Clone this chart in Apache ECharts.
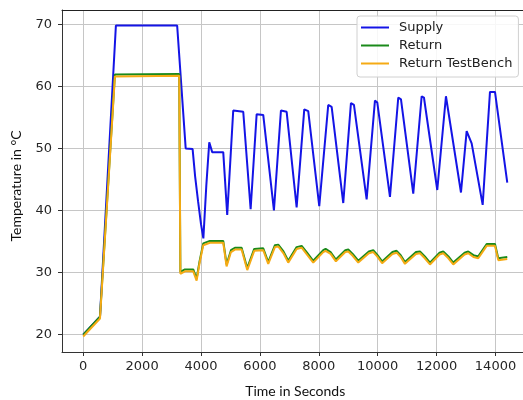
<!DOCTYPE html>
<html>
<head>
<meta charset="utf-8">
<script src="https://cdn.jsdelivr.net/npm/echarts@6/dist/echarts.min.js"></script>
<style>html,body{margin:0;padding:0;background:#fff}#c{width:523px;height:400px}</style>
</head>
<body>
<div id="c"></div>
<script>
// ---- data ----
const seriesNames = ["Supply", "Return", "Return TestBench"];

const supplyTime = [0, 570, 1110, 3190, 3480, 3715, 3800, 3900, 4000, 4080, 4180, 4280, 4380, 4755, 4890,
  5094, 5434, 5685, 5889, 6113, 6476, 6714, 6908, 7247, 7506, 7641, 8015, 8320, 8436, 8830,
  9091, 9193, 9624, 9906, 9985, 10416, 10698, 10790, 11207, 11492, 11570, 12022, 12317, 12375,
  12827, 13020, 13190, 13564, 13812, 13982, 14399];
const supplyTemp = [20.0, 22.9, 69.8, 69.8, 50.0, 49.9, 45.5, 41.5, 37.8, 35.5, 44.0, 51.0, 49.4, 49.4, 39.3,
  56.1, 55.9, 40.2, 55.5, 55.4, 40.0, 56.1, 55.9, 40.5, 56.3, 56.0, 40.7, 57.0, 56.7, 41.2,
  57.3, 57.0, 41.8, 57.7, 57.4, 42.2, 58.2, 57.9, 42.7, 58.4, 58.2, 43.3, 58.4, 58.1,
  42.9, 52.8, 50.8, 40.9, 59.1, 59.1, 44.5];

const returnTime = [0, 570, 1076, 1110, 3260, 3300, 3360, 3454, 3736, 3851, 3950, 4076, 4303, 4755, 4868,
  5017, 5152, 5379, 5570, 5807, 6113, 6283, 6510, 6622, 6800, 6962, 7247, 7417, 7600, 7811,
  8150, 8230, 8400, 8580, 8900, 9000, 9150, 9340, 9700, 9849, 9980, 10150, 10500, 10642, 10780,
  10925, 11300, 11434, 11600, 11774, 12100, 12226, 12400, 12565, 12950, 13075, 13250, 13414,
  13700, 13982, 14093, 14399];
const returnTemp = [20.0, 22.9, 61.9, 62.0, 62.0, 30.1, 29.9, 30.5, 30.5, 29.0, 31.8, 34.7, 35.1, 35.1, 31.3,
  33.6, 34.0, 34.0, 30.7, 33.8, 33.9, 31.7, 34.4, 34.5, 33.4, 31.9, 34.1, 34.3, 33.2, 31.9,
  33.6, 33.8, 33.3, 32.1, 33.6, 33.7, 33.0, 31.9, 33.4, 33.6, 32.9, 31.8, 33.3, 33.5, 32.8,
  31.7, 33.3, 33.4, 32.6, 31.6, 33.2, 33.4, 32.6, 31.6, 33.2, 33.4, 32.8, 32.6,
  34.6, 34.6, 32.3, 32.5];
const benchTemp = [19.7, 22.6, 61.6, 61.7, 61.7, 29.8, 29.6, 30.2, 30.2, 28.7, 31.5, 34.4, 34.8, 34.8, 31.0,
  33.3, 33.7, 33.7, 30.4, 33.5, 33.6, 31.4, 34.1, 34.2, 33.1, 31.6, 33.8, 34.0, 32.9, 31.6,
  33.3, 33.5, 33.0, 31.8, 33.3, 33.4, 32.7, 31.6, 33.1, 33.3, 32.6, 31.5, 33.0, 33.2, 32.5,
  31.4, 33.0, 33.1, 32.3, 31.3, 32.9, 33.1, 32.3, 31.3, 32.9, 33.1, 32.5, 32.3,
  34.3, 34.3, 32.0, 32.2];

const xTicks = [0, 2000, 4000, 6000, 8000, 10000, 12000, 14000];
const yTicks = [20, 30, 40, 50, 60, 70];

function zip(a, b) { return a.map((v, i) => [v, b[i]]); }

const chart = echarts.init(document.getElementById('c'), null, {renderer: 'canvas'});
const tickFont = {fontFamily: 'DejaVu Sans', fontSize: 13, color: '#262626'};
chart.setOption({
  animation: false,
  backgroundColor: '#fff',
  grid: {left: 62, top: 10, width: 466.5, height: 342, outerBoundsMode: 'none', containLabel: false, show: false},
  legend: {
    orient: 'vertical', left: 357, top: 16,
    data: seriesNames,
    icon: 'rect', itemWidth: 28, itemHeight: 2, itemGap: 3,
    padding: [4, 6, 6, 4],
    backgroundColor: 'rgba(255,255,255,0.85)', borderColor: '#d0d0d0', borderWidth: 1, borderRadius: 3,
    textStyle: {fontFamily: 'DejaVu Sans', fontSize: 13, color: '#222', lineHeight: 15, padding: [0, 0, 0, 5]}
  },
  xAxis: [{
    type: 'value', min: -720, max: 15120, splitNumber: 8,
    name: 'Time in Seconds', nameLocation: 'middle', nameGap: 32,
    nameTextStyle: {fontFamily: 'Lato', fontSize: 14, color: '#111'},
    axisLine: {show: true, onZero: false, lineStyle: {color: '#333', width: 1}},
    axisTick: {show: true, length: 4, lineStyle: {color: '#333'}, customValues: xTicks},
    axisLabel: Object.assign({margin: 8, customValues: xTicks, formatter: v => String(v)}, tickFont),
    splitLine: {show: true, lineStyle: {color: '#c6c6c6', width: 1}}
  }, {
    type: 'value', position: 'top', min: -720, max: 15120,
    axisLine: {show: true, onZero: false, lineStyle: {color: '#222', width: 1}},
    axisTick: {show: false}, axisLabel: {show: false}, splitLine: {show: false}
  }],
  yAxis: {
    type: 'value', min: 17.2, max: 72.3, splitNumber: 5,
    name: 'Temperature in °C', nameLocation: 'middle', nameGap: 39,
    nameTextStyle: {fontFamily: 'Lato', fontSize: 14, color: '#111', padding: [0, 10, 0, 0]},
    axisLine: {show: true, onZero: false, lineStyle: {color: '#333', width: 1}},
    axisTick: {show: true, length: 4, lineStyle: {color: '#333'}, customValues: yTicks},
    axisLabel: Object.assign({margin: 10, customValues: yTicks, formatter: v => String(v)}, tickFont),
    splitLine: {show: true, lineStyle: {color: '#c6c6c6', width: 1}}
  },
  series: [
    {name: seriesNames[0], type: 'line', data: zip(supplyTime, supplyTemp), showSymbol: false, color: '#1414e6', lineStyle: {width: 2}},
    {name: seriesNames[1], type: 'line', data: zip(returnTime, returnTemp), showSymbol: false, color: '#1a8a1a', lineStyle: {width: 2}},
    {name: seriesNames[2], type: 'line', data: zip(returnTime, benchTemp), showSymbol: false, color: '#f5aa14', lineStyle: {width: 2}}
  ]
});
</script>
</body>
</html>
